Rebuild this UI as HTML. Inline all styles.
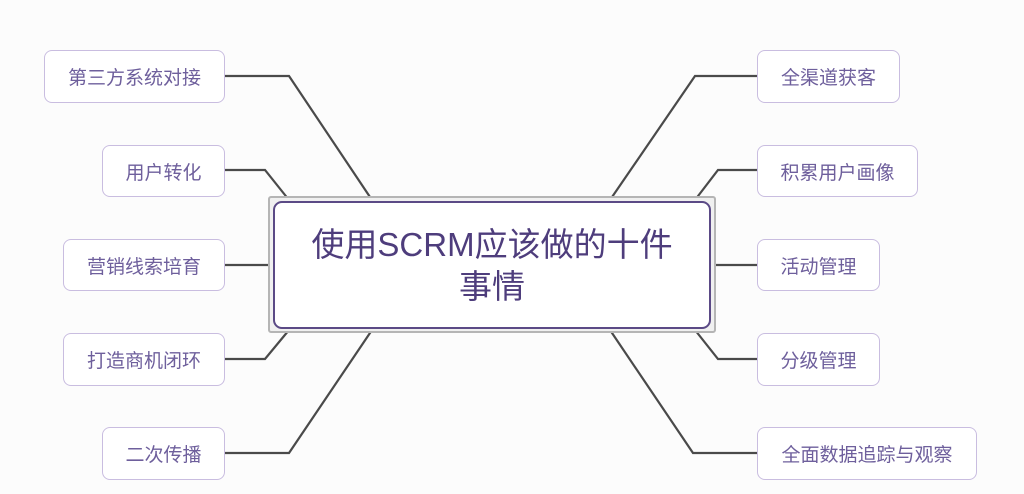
<!DOCTYPE html>
<html><head><meta charset="utf-8"><style>
body{margin:0;width:1024px;height:494px;background:#fcfcfc;position:relative;overflow:hidden;font-family:"Liberation Sans","Noto Sans CJK SC",sans-serif;}
.b{position:absolute;box-sizing:border-box;border:1.5px solid #c9bde0;border-radius:8px;background:#fff;color:#6e5f9c;font-size:19px;display:flex;align-items:center;justify-content:center;}
svg{position:absolute;left:0;top:0}
.c{position:absolute;left:268px;top:196px;width:448px;height:137px;box-sizing:border-box;border:2px solid #b5b5b5;background:#f0f0f0;border-radius:3px;}
.ci{position:absolute;left:273px;top:201px;width:438px;height:128px;box-sizing:border-box;border:2.5px solid #5b4a86;border-radius:9px;background:#fff;color:#4e3d7c;font-size:33px;text-align:center;line-height:42px;padding-top:21px;}
</style></head><body>
<svg width="1024" height="494"><g fill="none" stroke="#4a4a4a" stroke-width="2.2">
<polyline points="225,76 289,76 372,200"/>
<polyline points="225,170 265,170 289,200"/>
<polyline points="225,265 273,265"/>
<polyline points="225,359 265,359 289,330"/>
<polyline points="225,453 289,453 372,330"/>
<polyline points="757,76 695,76 610,200"/>
<polyline points="757,170 718,170 695,200"/>
<polyline points="757,265 711,265"/>
<polyline points="757,359 718,359 695,330"/>
<polyline points="757,453 693,453 610,330"/>
</g></svg>
<div class="c"></div><div class="ci">使用SCRM应该做的十件<br>事情</div>
<div class="b" style="left:44px;top:50px;width:181px;height:53px">第三方系统对接</div>
<div class="b" style="left:102px;top:145px;width:123px;height:52px">用户转化</div>
<div class="b" style="left:63px;top:239px;width:162px;height:52px">营销线索培育</div>
<div class="b" style="left:63px;top:333px;width:162px;height:53px">打造商机闭环</div>
<div class="b" style="left:102px;top:427px;width:123px;height:53px">二次传播</div>
<div class="b" style="left:757px;top:50px;width:143px;height:53px">全渠道获客</div>
<div class="b" style="left:757px;top:145px;width:161px;height:52px">积累用户画像</div>
<div class="b" style="left:757px;top:239px;width:123px;height:52px">活动管理</div>
<div class="b" style="left:757px;top:333px;width:123px;height:53px">分级管理</div>
<div class="b" style="left:757px;top:427px;width:220px;height:53px">全面数据追踪与观察</div>
</body></html>
